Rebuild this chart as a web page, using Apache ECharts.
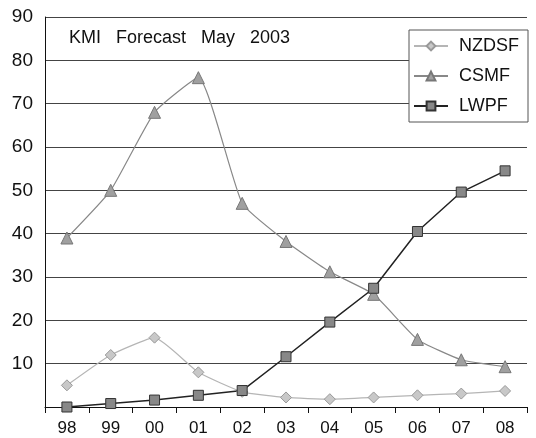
<!DOCTYPE html>
<html><head><meta charset="utf-8">
<script src="https://cdn.jsdelivr.net/npm/echarts@6/dist/echarts.min.js"></script>
<style>html,body{margin:0;padding:0;background:#fff}#c{width:536px;height:438px}</style>
</head><body><div id="c"></div>
<script>
const categories = ['98','99','00','01','02','03','04','05','06','07','08'];
const nzdsf = [5, 12, 16, 8, 3.5, 2.2, 1.8, 2.2, 2.7, 3.1, 3.7];
const csmf = [39, 50, 68, 76, 47, 38.2, 31.2, 26, 15.6, 10.9, 9.3];
const lwpf = [0, 0.8, 1.6, 2.7, 3.8, 11.6, 19.6, 27.4, 40.5, 49.6, 54.5];
const yTicks = [0, 10, 20, 30, 40, 50, 60, 70, 80, 90];

const chart = echarts.init(document.getElementById('c'));
const font = 'Liberation Sans, Arial, sans-serif';
chart.setOption({
  animation: false,
  backgroundColor: '#fff',
  title: {text: 'KMI   Forecast   May   2003', left: 64, top: 24,
    textStyle: {fontFamily: font, fontSize: 18, fontWeight: 'normal', color: '#111'}},
  legend: {
    right: 8, top: 30, orient: 'vertical', itemGap: 10, itemWidth: 34, itemHeight: 11,
    padding: [6, 9, 6, 4],
    borderColor: '#555', borderWidth: 1, backgroundColor: '#fff',
    textStyle: {fontFamily: font, fontSize: 18, lineHeight: 20, color: '#111', padding: [0, 0, 0, 6]},
    data: ['NZDSF', 'CSMF', 'LWPF']
  },
  grid: {left: 45, right: 9, top: 17, bottom: 31},
  xAxis: {
    type: 'category', data: categories, boundaryGap: true,
    axisLine: {lineStyle: {color: '#111', width: 1}},
    axisTick: {show: true, length: 6, lineStyle: {color: '#111'}},
    axisLabel: {fontFamily: font, fontSize: 17, color: '#111', margin: 13}
  },
  yAxis: {
    type: 'value', min: yTicks[0], max: yTicks[yTicks.length - 1], interval: 10,
    axisLine: {show: true, lineStyle: {color: '#111'}},
    axisTick: {show: false},
    axisLabel: {fontFamily: font, fontSize: 19, color: '#111', margin: 12,
      formatter: v => v === 0 ? '' : String(v)},
    splitLine: {lineStyle: {color: '#444', width: 1}}
  },
  series: [
    {name: 'NZDSF', type: 'line', data: nzdsf, smooth: 0.15,
      symbol: 'diamond', symbolSize: 11,
      lineStyle: {color: '#b5b5b5', width: 1.2},
      itemStyle: {color: '#c8c8c8', borderColor: '#999', borderWidth: 1}},
    {name: 'CSMF', type: 'line', data: csmf, smooth: 0.15,
      symbol: 'triangle', symbolSize: 12,
      lineStyle: {color: '#888', width: 1.2},
      itemStyle: {color: '#a0a0a0', borderColor: '#777', borderWidth: 1}},
    {name: 'LWPF', type: 'line', data: lwpf,
      symbol: 'rect', symbolSize: 10,
      lineStyle: {color: '#222', width: 1.5},
      itemStyle: {color: '#888', borderColor: '#333', borderWidth: 1}}
  ]
});
</script></body></html>
